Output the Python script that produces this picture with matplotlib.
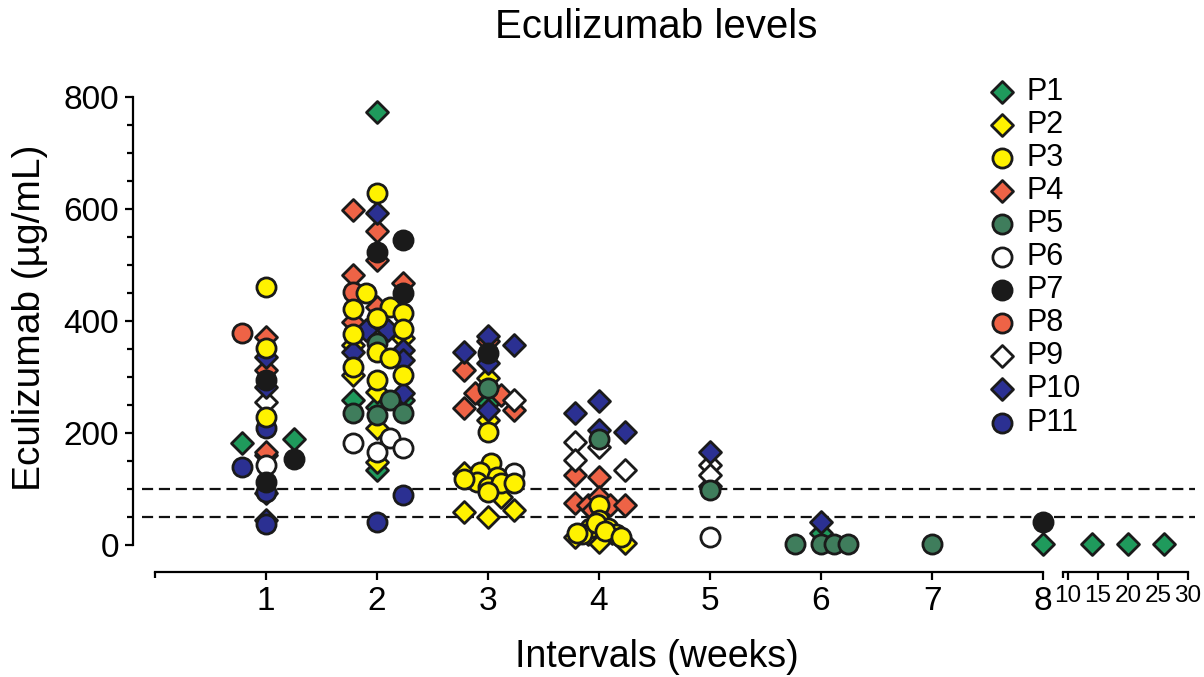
import matplotlib
matplotlib.use("Agg")
import matplotlib.pyplot as plt
import numpy as np

plt.rcParams['font.family'] = ['Liberation Sans', 'DejaVu Sans']

# Datos (intervalo en semanas, nivel en ug/mL)
p1_x = [0.78, 1.25, 1.0, 2.0, 1.78, 2.23, 2.0, 2.0, 3.0, 5.0, 6.0, 8.0, 14, 20, 26]
p1_y = [182, 189, 160, 773, 259, 259, 246, 134, 253, 105, 21, 2, 2, 2, 2]

p2_x = [1.78, 1.78, 2.0, 2.0, 2.0, 2.23, 3.0, 3.0, 2.78, 2.78, 3.0, 3.23, 3.12,
        3.78, 4.0, 4.23, 3.9, 4.12]
p2_y = [357, 304, 273, 209, 148, 370, 298, 223, 129, 59, 50, 62, 86,
        15, 5, 4, 20, 22]

p3_x = [1.0, 1.0, 1.0,
        2.0, 1.9, 1.78, 2.12, 2.23, 2.0, 2.23, 1.78, 2.0, 2.12, 1.78, 2.0, 2.23,
        3.0, 3.03, 2.93, 3.08, 2.9, 3.0, 3.12, 3.23, 3.0, 2.78,
        4.0, 4.0, 3.92, 4.08, 3.85, 4.15, 3.97, 4.05, 4.2, 3.8]
p3_y = [460, 352, 228,
        628, 450, 421, 425, 414, 405, 386, 377, 345, 334, 318, 295, 304,
        202, 146, 130, 121, 113, 104, 111, 111, 95, 118,
        71, 45, 30, 30, 20, 20, 40, 25, 15, 22]

p4_x = [1.0, 1.0, 1.0,
        1.78, 2.0, 2.0, 1.78, 2.23, 2.0, 1.78,
        3.0, 2.78, 2.88, 3.12, 2.78, 3.23,
        3.78, 4.0, 3.78, 3.9, 4.0, 4.1, 4.23, 3.95]
p4_y = [372, 312, 166,
        598, 561, 509, 482, 468, 425, 398,
        365, 313, 271, 268, 245, 241,
        125, 121, 75, 71, 86, 71, 71, 62]

p5_x = [2.0, 2.12, 1.78, 2.0, 2.23, 3.0, 4.0, 5.0, 5.77, 6.0, 6.12, 6.24, 7.0]
p5_y = [360, 259, 236, 232, 236, 280, 189, 98, 1, 1, 1, 1, 1]

p6_x = [1.0, 1.78, 2.12, 2.0, 2.23, 3.23, 5.0]
p6_y = [143, 182, 191, 166, 173, 129, 14]

p7_x = [1.0, 1.25, 1.0, 2.0, 2.23, 2.23, 3.0, 8.0]
p7_y = [295, 154, 113, 523, 545, 450, 343, 41]

p8_x = [0.78, 1.78]
p8_y = [378, 452]

p9_x = [1.0, 3.23, 3.78, 3.78, 4.0, 4.23, 5.0, 5.0]
p9_y = [255, 259, 184, 152, 175, 134, 143, 125]

p10_x = [1.0, 1.0, 1.0, 1.0,
         2.0, 1.9, 2.1, 1.78, 2.23, 2.23, 2.23,
         2.78, 3.0, 3.23, 3.0, 3.0,
         3.78, 4.0, 4.0, 4.23, 5.0, 6.0]
p10_y = [335, 282, 93, 45,
         593, 384, 384, 345, 348, 330, 271,
         345, 373, 357, 325, 241,
         235, 257, 205, 202, 166, 41]

p11_x = [1.0, 0.78, 1.0, 1.0, 2.23, 2.0]
p11_y = [209, 139, 95, 38, 89, 41]

pacientes = ['P1', 'P2', 'P3', 'P4', 'P5', 'P6', 'P7', 'P8', 'P9', 'P10', 'P11']
xs = [p1_x, p2_x, p3_x, p4_x, p5_x, p6_x, p7_x, p8_x, p9_x, p10_x, p11_x]
ys = [p1_y, p2_y, p3_y, p4_y, p5_y, p6_y, p7_y, p8_y, p9_y, p10_y, p11_y]
marcadores = ['D', 'D', 'o', 'D', 'o', 'o', 'o', 'o', 'D', 'D', 'o']
colores = ['#1f9a5c', '#fff200', '#fff200', '#ee6346', '#3f7d5c', 'white',
           '#1a1a1a', '#ee6346', 'white', '#2b3092', '#2b3092']
# orden de dibujo (los circulos amarillos y negros quedan encima)
capas = [3, 3, 5, 3, 4, 4, 5, 4, 3, 3, 4]

umbrales = [50, 100]

W, H = 1204, 677
fig = plt.figure(figsize=(W / 100, H / 100), dpi=100)

# eje principal (0 a 8 semanas) y eje cortado (10 a 30)
ax = fig.add_axes([133 / W, (H - 572) / H, (1060 - 133) / W, (572 - 80) / H])
ax2 = fig.add_axes([1060 / W, (H - 572) / H, (1200 - 1060) / W, (572 - 80) / H])
ax2.patch.set_visible(False)

ylim = (-48.2, 830.4)
ax.set_xlim(-0.198, 8.153)
ax.set_ylim(*ylim)
ax2.set_xlim(8.667, 32.0)
ax2.set_ylim(*ylim)

# lineas de referencia punteadas
ax.hlines(umbrales, -0.12, 9.37, colors='#111111', linestyles=(0, (5, 2.6)),
          linewidth=1.6, clip_on=False, zorder=1)

handles = []
for nombre, x, y, m, c, z in zip(pacientes, xs, ys, marcadores, colores, capas):
    x = np.array(x, dtype=float)
    y = np.array(y, dtype=float)
    s = 125 if m == 'D' else 190
    corto = x <= 9
    h = ax.scatter(x[corto], y[corto], s=s, marker=m, facecolor=c, edgecolor='#1a1a1a',
                   linewidth=2.0, label=nombre, zorder=z, clip_on=False)
    if (~corto).any():
        ax2.scatter(x[~corto], y[~corto], s=s, marker=m, facecolor=c, edgecolor='#1a1a1a',
                    linewidth=2.0, zorder=z, clip_on=False)
    handles.append(h)

# ejes
for a in (ax, ax2):
    a.spines['top'].set_visible(False)
    a.spines['right'].set_visible(False)
    a.spines['bottom'].set_linewidth(1.6)
    a.spines['left'].set_linewidth(1.6)

ax.spines['left'].set_bounds(0, 800)
ax.spines['bottom'].set_bounds(0, 8)
ax.set_yticks([0, 200, 400, 600, 800])
ax.set_yticks(np.arange(0, 801, 50), minor=True)
ax.set_xticks(range(1, 9))
ax.set_xticks([0], minor=True)
ax.tick_params(axis='both', which='major', direction='out', length=6, width=1.6,
               labelsize=24, pad=4)
ax.tick_params(axis='both', which='minor', direction='out', length=4, width=1.6)

ax2.spines['left'].set_visible(False)
ax2.spines['bottom'].set_bounds(9.2, 30)
ax2.set_yticks([])
ax2.set_xticks([10, 15, 20, 25, 30])
ax2.set_xticks([9.2], minor=True)
ax2.tick_params(axis='x', which='major', direction='out', length=6, width=1.6,
                labelsize=17.5, pad=3)
ax2.tick_params(axis='x', which='minor', direction='out', length=4, width=1.6)

fig.text(656 / W, 1 - 27 / H, 'Eculizumab levels', ha='center', va='center', fontsize=29)
fig.text(657 / W, 1 - 657 / H, 'Intervals (weeks)', ha='center', va='center', fontsize=27)
fig.text(30 / W, 1 - 318 / H, 'Eculizumab (µg/mL)', ha='center', va='center',
         rotation=90, fontsize=28)

fig.legend(handles=handles, loc='upper left', bbox_to_anchor=(990 / W, 1 - 77 / H),
           frameon=False, fontsize=22, handlelength=0.8, handletextpad=0.4,
           labelspacing=0.1, borderpad=0, borderaxespad=0, markerscale=1.0)

plt.savefig('out.png', dpi=100)
